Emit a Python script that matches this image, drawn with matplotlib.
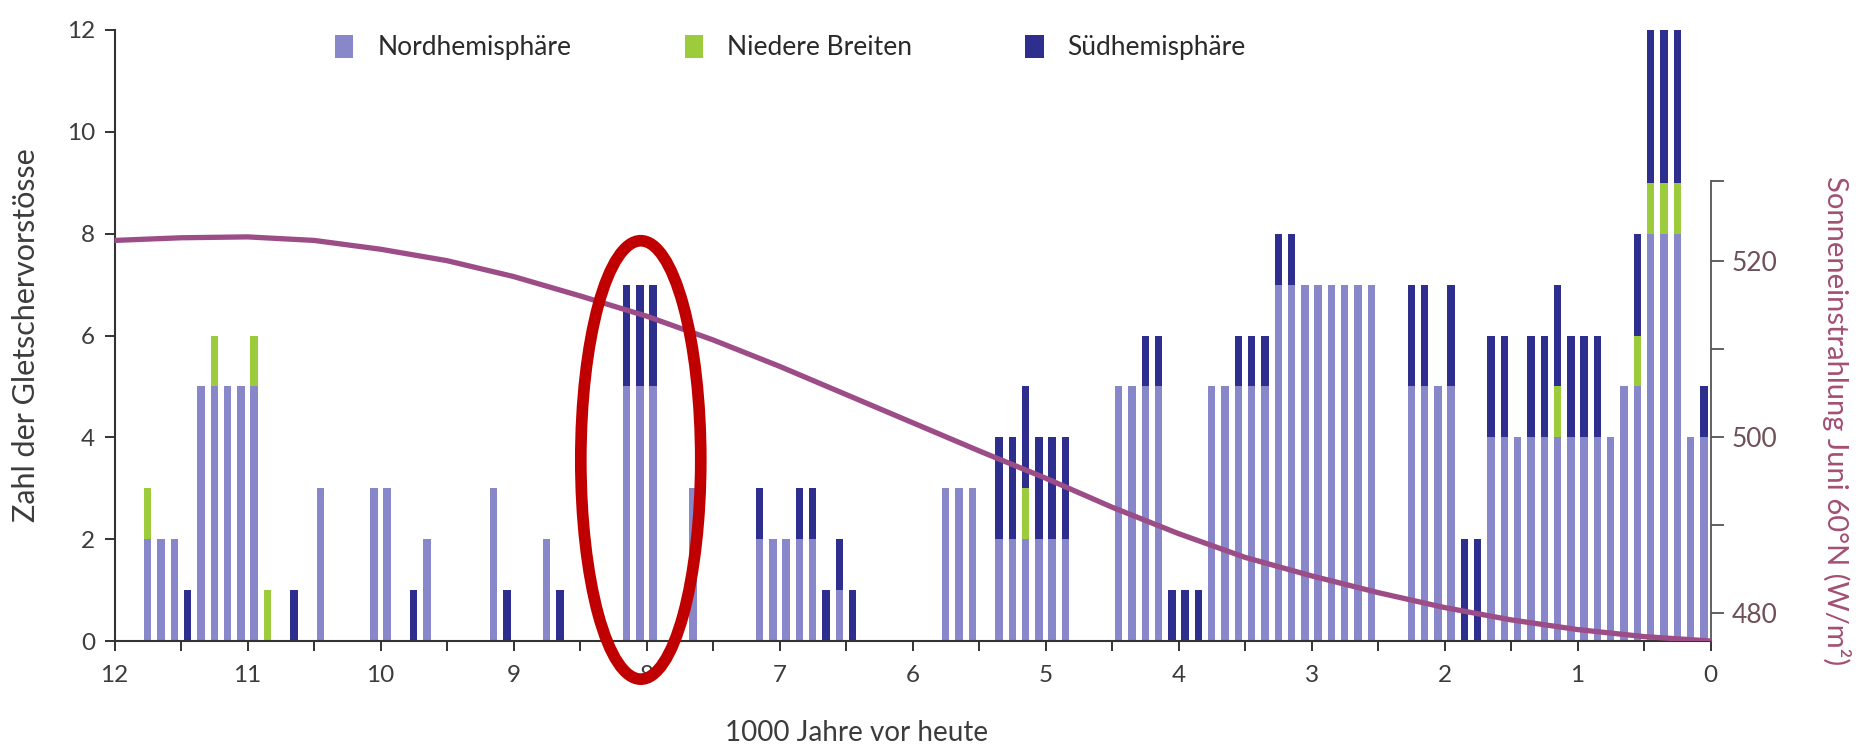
import matplotlib
matplotlib.use('Agg')
import matplotlib.pyplot as plt
from matplotlib.patches import Patch, Ellipse
import numpy as np

plt.rcParams['font.family'] = ['Lato', 'DejaVu Sans']

# ---------------- data ----------------
# bin centres (1000 years before present)
kyr = [11.75, 11.65, 11.55, 11.45, 11.35, 11.25, 11.15, 11.05, 10.95, 10.85,
       10.65, 10.45, 10.05, 9.95, 9.75, 9.65, 9.15, 9.05, 8.75, 8.65,
       8.15, 8.05, 7.95, 7.65, 7.15, 7.05, 6.95, 6.85, 6.75, 6.65,
       6.55, 6.45, 5.75, 5.65, 5.55, 5.35, 5.25, 5.15, 5.05, 4.95,
       4.85, 4.45, 4.35, 4.25, 4.15, 4.05, 3.95, 3.85, 3.75, 3.65,
       3.55, 3.45, 3.35, 3.25, 3.15, 3.05, 2.95, 2.85, 2.75, 2.65,
       2.55, 2.25, 2.15, 2.05, 1.95, 1.85, 1.75, 1.65, 1.55, 1.45,
       1.35, 1.25, 1.15, 1.05, 0.95, 0.85, 0.75, 0.65, 0.55, 0.45,
       0.35, 0.25, 0.15, 0.05]
nordhemisphaere = [2, 2, 2, 0, 5, 5, 5, 5, 5, 0,
                   0, 3, 3, 3, 0, 2, 3, 0, 2, 0,
                   5, 5, 5, 3, 2, 2, 2, 2, 2, 0,
                   1, 0, 3, 3, 3, 2, 2, 2, 2, 2,
                   2, 5, 5, 5, 5, 0, 0, 0, 5, 5,
                   5, 5, 5, 7, 7, 7, 7, 7, 7, 7,
                   7, 5, 5, 5, 5, 0, 0, 4, 4, 4,
                   4, 4, 4, 4, 4, 4, 4, 5, 5, 8,
                   8, 8, 4, 4]
niedere_breiten = [1, 0, 0, 0, 0, 1, 0, 0, 1, 1,
                   0, 0, 0, 0, 0, 0, 0, 0, 0, 0,
                   0, 0, 0, 0, 0, 0, 0, 0, 0, 0,
                   0, 0, 0, 0, 0, 0, 0, 1, 0, 0,
                   0, 0, 0, 0, 0, 0, 0, 0, 0, 0,
                   0, 0, 0, 0, 0, 0, 0, 0, 0, 0,
                   0, 0, 0, 0, 0, 0, 0, 0, 0, 0,
                   0, 0, 1, 0, 0, 0, 0, 0, 1, 1,
                   1, 1, 0, 0]
suedhemisphaere = [0, 0, 0, 1, 0, 0, 0, 0, 0, 0,
                   1, 0, 0, 0, 1, 0, 0, 1, 0, 1,
                   2, 2, 2, 0, 1, 0, 0, 1, 1, 1,
                   1, 1, 0, 0, 0, 2, 2, 2, 2, 2,
                   2, 0, 0, 1, 1, 1, 1, 1, 0, 0,
                   1, 1, 1, 1, 1, 0, 0, 0, 0, 0,
                   0, 2, 2, 0, 2, 2, 2, 2, 2, 0,
                   2, 2, 2, 2, 2, 2, 0, 0, 2, 3,
                   3, 3, 0, 1]

# June insolation at 60°N (W/m^2)
ins_kyr = [12.0, 11.5, 11.0, 10.5, 10.0, 9.5, 9.0, 8.5, 8.0, 7.5, 7.0, 6.5,
           6.0, 5.5, 5.0, 4.5, 4.0, 3.5, 3.0, 2.5, 2.0, 1.5, 1.0, 0.5, 0.0]
ins_wm2 = [522.3, 522.6, 522.7, 522.3, 521.3, 520.0, 518.2, 516.0, 513.7, 511.0,
           508.0, 504.8, 501.6, 498.4, 495.3, 492.0, 489.0, 486.3, 484.2, 482.3,
           480.6, 479.2, 478.1, 477.3, 476.8]

x_major = list(range(12, -1, -1))
y_ticks = [0, 2, 4, 6, 8, 10, 12]
right_ticks = [480, 490, 500, 510, 520, 529]
right_labels = ['480', '', '500', '', '520', '']
legend_labels = ['Nordhemisphäre', 'Niedere Breiten', 'Südhemisphäre']

# ---------------- style ----------------
C_NH = '#8787c9'
C_LB = '#9ccb3b'
C_SH = '#2e2e8e'
C_CURVE = '#9c4d88'
C_AX = '#333333'
C_TXT = '#3c3c3c'
C_RIGHT = '#a24f73'

W, H = 1862, 749
fig = plt.figure(figsize=(W / 100, H / 100), dpi=100)
ax = fig.add_axes([114.5 / W, 1 - 641 / H, 1596 / W, 611 / H])

nh = np.array(nordhemisphaere, float)
lb = np.array(niedere_breiten, float)
sh = np.array(suedhemisphaere, float)
bw = 0.055
ax.bar(kyr, nh, width=bw, color=C_NH, linewidth=0, zorder=2)
ax.bar(kyr, lb, width=bw, bottom=nh, color=C_LB, linewidth=0, zorder=2)
ax.bar(kyr, sh, width=bw, bottom=nh + lb, color=C_SH, linewidth=0, zorder=2)

ax.set_xlim(12, 0)
ax.set_ylim(0, 12)
ax.set_xticks(x_major)
ax.set_xticks(np.arange(11.5, 0, -1.0), minor=True)
ax.set_yticks(y_ticks)
for s in ['top', 'right']:
    ax.spines[s].set_visible(False)
for s in ['left', 'bottom']:
    ax.spines[s].set_color(C_AX)
    ax.spines[s].set_linewidth(1.5)
ax.tick_params(axis='x', which='both', direction='out', length=7, width=1.4,
               color=C_AX, labelsize=17.5, labelcolor=C_TXT, pad=10)
ax.tick_params(axis='y', which='both', direction='out', length=7, width=1.4,
               color=C_AX, labelsize=17.5, labelcolor=C_TXT, pad=7)

# right axis: insolation
ax2 = ax.twinx()
ax2.plot(ins_kyr, ins_wm2, color=C_CURVE, lw=3.8, solid_capstyle='butt',
         solid_joinstyle='round', zorder=5)
ax2.set_ylim(476.8, 546.2)
ax2.set_xlim(12, 0)
for s in ['top', 'left', 'bottom']:
    ax2.spines[s].set_visible(False)
ax2.spines['right'].set_bounds(476.8, 529)
ax2.spines['right'].set_color('#555555')
ax2.spines['right'].set_linewidth(1.3)
ax2.set_yticks(right_ticks)
ax2.set_yticklabels(right_labels)
ax2.tick_params(axis='y', direction='out', length=9, width=1.3,
                color='#555555', labelsize=19, labelcolor='#6e5058', pad=6)

# red highlight ellipse
ell = Ellipse((8.043, 3.556), width=0.902, height=8.61, transform=ax.transData,
              fill=False, edgecolor='#c00000', linewidth=8.4, clip_on=False,
              zorder=20)
ax2.add_artist(ell)

# legend
handles = [Patch(facecolor=c, edgecolor='none') for c in (C_NH, C_LB, C_SH)]
leg = ax2.legend(handles, legend_labels, ncol=3, loc='center left',
                 bbox_to_anchor=(335 / W, 1 - 47.5 / H),
                 bbox_transform=fig.transFigure, frameon=False, fontsize=19,
                 handlelength=0.7, handleheight=1.0, handletextpad=0.9,
                 columnspacing=4.3, borderpad=0, borderaxespad=0)
for t in leg.get_texts():
    t.set_color('#2a2a2a')

# axis labels
fig.text(26 / W, 1 - 335 / H, 'Zahl der Gletschervorstösse', rotation=90,
         ha='center', va='center', fontsize=22, color=C_TXT)
fig.text(857 / W, 1 - 733 / H, '1000 Jahre vor heute', ha='center',
         va='center', fontsize=20, color=C_TXT)
fig.text(1836 / W, 1 - 421 / H, 'Sonneneinstrahlung Juni 60°N (W/m²)',
         rotation=-90, ha='center', va='center', fontsize=21, color=C_RIGHT)

fig.savefig('out.png', dpi=100, facecolor='white')
